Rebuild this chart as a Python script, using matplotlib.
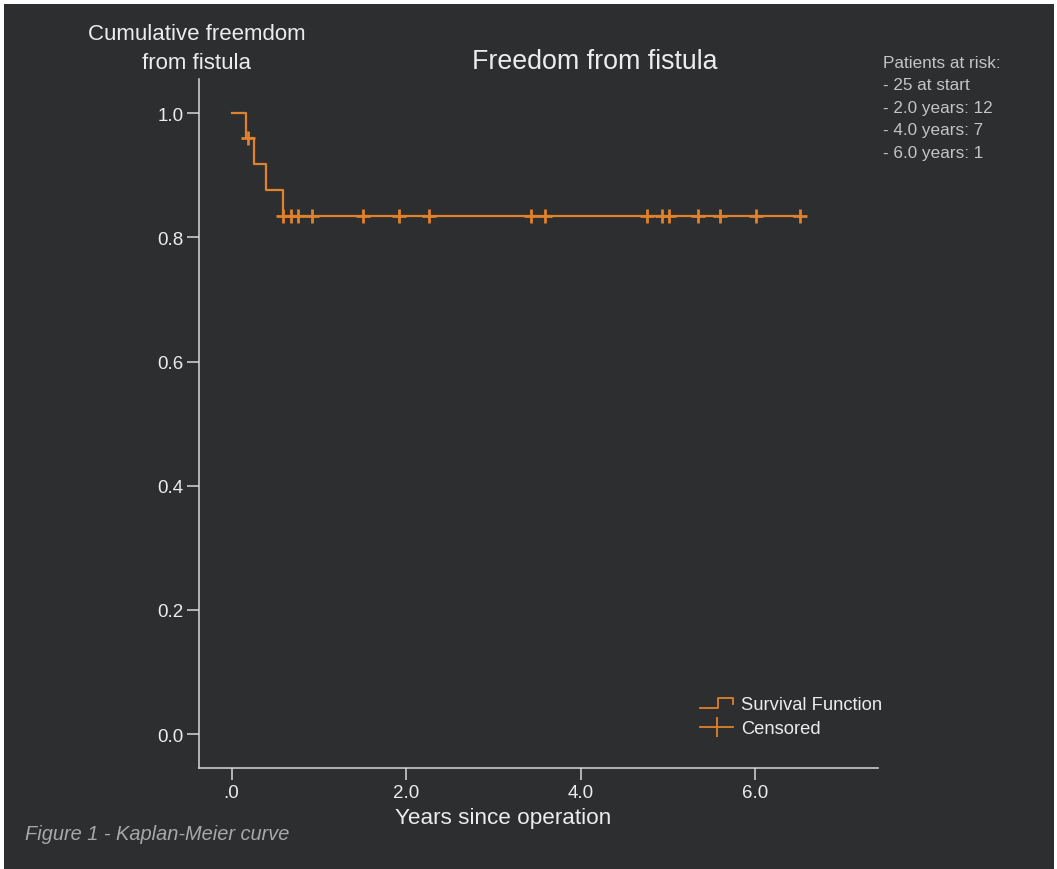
import numpy as np
import matplotlib
matplotlib.use("Agg")
import matplotlib.pyplot as plt
from matplotlib.lines import Line2D
from matplotlib.patches import Rectangle
from matplotlib.legend_handler import HandlerBase
from matplotlib.ticker import FuncFormatter

# Kaplan-Meier steps: time of each step (years) and survival after it
step_times = [0.0, 0.17, 0.26, 0.39, 0.59]
step_surv = [1.0, 0.96, 0.918, 0.877, 0.835]
end_time = 6.51

# censored follow-up times (years)
censor_times = [0.185, 0.59, 0.68, 0.76, 0.92, 1.51, 1.92, 2.26, 3.43, 3.59,
                4.76, 4.93, 5.01, 5.34, 5.59, 6.01, 6.51]

x_ticks = [0, 2, 4, 6]
y_ticks = [0.0, 0.2, 0.4, 0.6, 0.8, 1.0]
risk_lines = ["Patients at risk:", "- 25 at start", "- 2.0 years: 12",
              "- 4.0 years: 7", "- 6.0 years: 1"]

BG = "#2d2e30"
ORANGE = "#e0812b"
FG = "#ececec"

plt.rcParams["font.family"] = ["Liberation Sans", "DejaVu Sans"]


class StepHandler(HandlerBase):
    # little step drawn as the legend key of the survival line
    def create_artists(self, legend, orig_handle, xdescent, ydescent,
                       width, height, fontsize, trans):
        x0 = -xdescent
        y0 = -ydescent
        xs = [x0, x0 + 0.56 * width, x0 + 0.56 * width, x0 + width, x0 + width]
        ys = [y0 + 0.05 * height, y0 + 0.05 * height, y0 + 0.85 * height,
              y0 + 0.85 * height, y0 + 0.4 * height]
        line = Line2D(xs, ys, color=ORANGE, lw=1.3, transform=trans)
        return [line]


fig = plt.figure(figsize=(10.57, 8.7), dpi=100, facecolor="white")
fig.patches.append(Rectangle((3.5 / 1057, 0), (1054 - 3.5) / 1057, 1 - 5 / 870,
                             transform=fig.transFigure, facecolor=BG,
                             edgecolor="none", zorder=-5))

ax = fig.add_axes([198.5 / 1057, 1 - 768.7 / 870,
                   (877.7 - 198.5) / 1057, (768.7 - 80) / 870])
ax.set_facecolor(BG)

# survival curve
xs = list(step_times) + [end_time]
ys = list(step_surv) + [step_surv[-1]]
ax.step(xs, ys, where="post", color=ORANGE, lw=1.6, zorder=3)

# censored marks sit on the curve
idx = np.searchsorted(step_times, censor_times, side="right") - 1
censor_y = [step_surv[i] for i in idx]
ax.plot(censor_times, censor_y, ls="none", marker="+", ms=10, mew=2.0,
        color=ORANGE, zorder=4)

ax.set_xlim(-0.378, 7.40)
ax.set_ylim(-0.054, 1.055)
ax.set_xticks(x_ticks)
ax.set_yticks(y_ticks)
ax.xaxis.set_major_formatter(FuncFormatter(
    lambda v, p: ".0" if v == 0 else f"{v:.1f}"))
ax.yaxis.set_major_formatter(FuncFormatter(lambda v, p: f"{v:.1f}"))

for side in ["top", "right"]:
    ax.spines[side].set_visible(False)
for side in ["left", "bottom"]:
    ax.spines[side].set_color("#d8d8d8")
    ax.spines[side].set_linewidth(1.1)
ax.tick_params(axis="both", direction="out", length=8.6, width=1.1,
               color="#d8d8d8", labelcolor=FG, labelsize=13.5)
ax.tick_params(axis="y", pad=2)
ax.tick_params(axis="x", pad=3)

# legend
surv_handle = Line2D([], [], color=ORANGE)
cens_handle = Line2D([], [], color=ORANGE, lw=1.3, marker="|", ms=14, mew=1.3)
fig.legend([surv_handle, cens_handle], ["Survival Function", "Censored"],
           handler_map={surv_handle: StepHandler()},
           loc="upper left", bbox_to_anchor=(700 / 1057, 1 - 697 / 870),
           bbox_transform=fig.transFigure, frameon=False, fontsize=13.2,
           labelcolor=FG, borderpad=0, borderaxespad=0, handlelength=1.8,
           handletextpad=0.45, labelspacing=0.38, numpoints=1)

# titles and labels
fig.text(595 / 1057, 1 - 62 / 870, "Freedom from fistula", ha="center",
         va="center", fontsize=19.3, color=FG)
fig.text(197 / 1057, 1 - 49 / 870, "Cumulative freemdom\nfrom fistula",
         ha="center", va="center", fontsize=16, color=FG, linespacing=1.45)
fig.text(503 / 1057, 1 - 819 / 870, "Years since operation", ha="center",
         va="center", fontsize=16.2, color=FG)
fig.text(25 / 1057, 1 - 835 / 870, "Figure 1 - Kaplan-Meier curve", ha="left",
         va="center", fontsize=14.4, color="#a8a8a8", style="italic")
fig.text(883 / 1057, 1 - 56 / 870, "\n".join(risk_lines), ha="left", va="top",
         fontsize=12.3, color="#c4c4c4", linespacing=1.62)

fig.savefig("out.png", dpi=100, facecolor="white")
